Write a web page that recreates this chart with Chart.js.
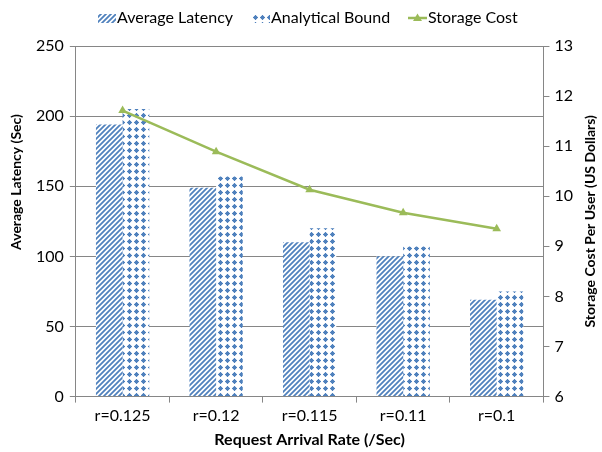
<!DOCTYPE html>
<html>
<head>
<meta charset="utf-8">
<script src="https://cdn.jsdelivr.net/npm/chart.js@4"></script>
<style>
  html, body { margin: 0; padding: 0; background: #fff; }
  #wrap { width: 602px; height: 452px; }
</style>
</head>
<body>
<div id="wrap"><canvas id="chart" width="602" height="452"></canvas></div>
<script>
// 데이터
const categories = ['r=0.125', 'r=0.12', 'r=0.115', 'r=0.11', 'r=0.1'];
const avgLatency = [194, 149, 110, 100, 69];
const analyticalBound = [205, 157, 120, 107, 75];
const storageCost = [11.71, 10.89, 10.13, 9.67, 9.35];

const BLUE = '#4F81BD';
const GREEN = '#9BBB59';
const FONT = 'Lato, "Open Sans", sans-serif';

// 패턴 만들기
function stripePattern(color) {
    const c = document.createElement('canvas');
    c.width = 5; c.height = 5;
    const g = c.getContext('2d');
    g.fillStyle = '#fff';
    g.fillRect(0, 0, 5, 5);
    g.strokeStyle = color;
    g.lineWidth = 1.8;
    g.beginPath();
    g.moveTo(-2.5, 2.5); g.lineTo(2.5, -2.5);
    g.moveTo(0, 5); g.lineTo(5, 0);
    g.moveTo(2.5, 7.5); g.lineTo(7.5, 2.5);
    g.stroke();
    return g.createPattern(c, 'repeat');
}

function dotPattern(color) {
    const c = document.createElement('canvas');
    c.width = 7; c.height = 7;
    const g = c.getContext('2d');
    g.fillStyle = '#fff';
    g.fillRect(0, 0, 7, 7);
    g.fillStyle = color;
    g.beginPath();
    g.arc(3.5, 3.5, 2.0, 0, Math.PI * 2);
    g.fill();
    g.fillRect(1, 3, 5, 1);
    g.fillRect(3, 1, 1, 5);
    return g.createPattern(c, 'repeat');
}

const stripes = stripePattern(BLUE);
const dots = dotPattern(BLUE);

// 범례 + 세로 축 제목 직접 그리기
const customDraw = {
    id: 'customDraw',
    afterDraw(chart) {
        const ctx = chart.ctx;
        ctx.save();
        ctx.font = '16px ' + FONT;
        ctx.fillStyle = '#000';
        ctx.textBaseline = 'middle';
        ctx.textAlign = 'left';
        const y = 18;

        let x = 98;
        ctx.fillStyle = stripes;
        ctx.fillRect(x, y - 4, 18, 9);
        ctx.fillStyle = '#000';
        ctx.fillText('Average Latency', x + 19, y);

        x = 252;
        ctx.fillStyle = dots;
        ctx.fillRect(x, y - 4, 18, 9);
        ctx.fillStyle = '#000';
        ctx.fillText('Analytical Bound', x + 19, y);

        x = 408;
        ctx.strokeStyle = GREEN;
        ctx.lineWidth = 2.5;
        ctx.beginPath();
        ctx.moveTo(x, y); ctx.lineTo(x + 19, y);
        ctx.stroke();
        ctx.fillStyle = GREEN;
        ctx.beginPath();
        ctx.moveTo(x + 9.5, y - 4.5); ctx.lineTo(x + 14, y + 3); ctx.lineTo(x + 5, y + 3);
        ctx.closePath();
        ctx.fill();
        ctx.fillStyle = '#000';
        ctx.fillText('Storage Cost', x + 20, y);

        ctx.font = 'bold 14px ' + FONT;
        ctx.textAlign = 'center';

        // 왼쪽 축 제목
        ctx.save();
        ctx.translate(16, 182);
        ctx.rotate(-Math.PI / 2);
        ctx.fillText('Average Latency (Sec)', 0, 0);
        ctx.restore();

        // 오른쪽 축 제목
        ctx.save();
        ctx.translate(590, (chart.chartArea.top + chart.chartArea.bottom) / 2);
        ctx.rotate(-Math.PI / 2);
        ctx.fillText('Storage Cost Per User (US Dollars)', 0, 0);
        ctx.restore();

        ctx.restore();
    }
};

new Chart(document.getElementById('chart').getContext('2d'), {
    data: {
        labels: categories,
        datasets: [
            {
                type: 'bar',
                label: 'Average Latency',
                data: avgLatency,
                backgroundColor: stripes,
                borderWidth: 0,
                yAxisID: 'y',
                order: 2,
                categoryPercentage: 0.57,
                barPercentage: 1.0
            },
            {
                type: 'bar',
                label: 'Analytical Bound',
                data: analyticalBound,
                backgroundColor: dots,
                borderWidth: 0,
                yAxisID: 'y',
                order: 2,
                categoryPercentage: 0.57,
                barPercentage: 1.0
            },
            {
                type: 'line',
                label: 'Storage Cost',
                data: storageCost,
                borderColor: GREEN,
                backgroundColor: GREEN,
                borderWidth: 2.5,
                pointStyle: 'triangle',
                pointRadius: 5,
                pointBackgroundColor: GREEN,
                pointBorderWidth: 0,
                tension: 0,
                yAxisID: 'y1',
                order: 0
            }
        ]
    },
    options: {
        responsive: false,
        animation: false,
        layout: { padding: { top: 46, left: 30, right: 24, bottom: 3 } },
        plugins: {
            legend: { display: false },
            tooltip: { enabled: false }
        },
        scales: {
            x: {
                grid: {
                    offset: true,
                    drawOnChartArea: false,
                    drawTicks: true,
                    tickLength: 6,
                    color: '#868686'
                },
                border: { color: '#868686', width: 1 },
                ticks: { color: '#000', font: { family: FONT, size: 16 }, padding: 4 },
                title: {
                    display: true,
                    text: 'Request Arrival Rate (/Sec)',
                    color: '#000',
                    font: { family: FONT, size: 16, weight: 'bold' },
                    padding: { top: 0, bottom: 0 }
                }
            },
            y: {
                position: 'left',
                min: 0,
                max: 250,
                ticks: { stepSize: 50, color: '#000', font: { family: FONT, size: 16 }, padding: 6 },
                grid: { color: '#868686', tickLength: 6 },
                border: { color: '#868686', width: 1 }
            },
            y1: {
                position: 'right',
                min: 6,
                max: 13,
                ticks: { stepSize: 1, color: '#000', font: { family: FONT, size: 16 }, padding: 5 },
                grid: { drawOnChartArea: false, color: '#868686', tickLength: 6 },
                border: { color: '#868686', width: 1 }
            }
        }
    },
    plugins: [customDraw]
});
</script>
</body>
</html>
